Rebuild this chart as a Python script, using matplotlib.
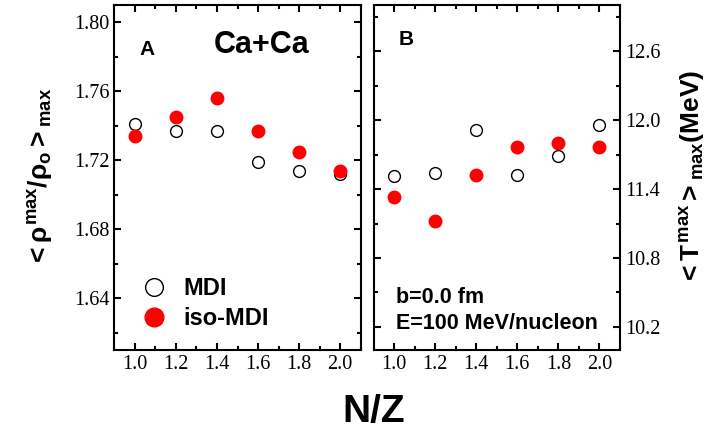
import matplotlib
matplotlib.use("Agg")
import matplotlib.pyplot as plt
from matplotlib.ticker import MultipleLocator

plt.rcParams['mathtext.fontset'] = 'custom'
plt.rcParams['mathtext.rm'] = 'Liberation Sans:bold'
plt.rcParams['mathtext.it'] = 'Liberation Sans:bold'
plt.rcParams['mathtext.bf'] = 'Liberation Sans:bold'

# Data
nz = [1.0, 1.2, 1.4, 1.6, 1.8, 2.0]
rho_mdi = [1.741, 1.737, 1.737, 1.719, 1.714, 1.712]
rho_iso = [1.734, 1.745, 1.756, 1.737, 1.725, 1.714]
temp_mdi = [11.51, 11.54, 11.91, 11.52, 11.69, 11.96]
temp_iso = [11.33, 11.12, 11.52, 11.77, 11.80, 11.77]
rho_ticks = [1.64, 1.68, 1.72, 1.76, 1.80]
temp_ticks = [10.2, 10.8, 11.4, 12.0, 12.6]

fig, (ax1, ax2) = plt.subplots(1, 2, figsize=(7.15, 4.32), dpi=100)
fig.subplots_adjust(left=0.16, right=0.867, top=0.988, bottom=0.19, wspace=0.053)

serif = 'Liberation Serif'
sans = 'Liberation Sans'

for ax in (ax1, ax2):
    ax.set_xlim(0.9, 2.1)
    ax.set_xticks(nz)
    ax.set_xticklabels([f"{v:.1f}" for v in nz], fontfamily=serif, fontsize=14.5)
    ax.xaxis.set_minor_locator(MultipleLocator(0.1))
    ax.tick_params(which='both', direction='in', top=True, bottom=True,
                   left=True, right=True, width=1.5)
    ax.tick_params(which='major', length=5)
    ax.tick_params(which='minor', length=3)
    for s in ax.spines.values():
        s.set_linewidth(1.5)

# Panel A
ax1.plot(nz, rho_mdi, 'o', mfc='white', mec='black', mew=1.0, ms=8.5, label='MDI')
ax1.plot(nz, rho_iso, 'o', mfc='red', mec='red', ms=9, label='iso-MDI')
ax1.set_ylim(1.61, 1.81)
ax1.set_yticks(rho_ticks)
ax1.set_yticklabels([f"{v:.2f}" for v in rho_ticks], fontfamily=serif, fontsize=14.5)
ax1.yaxis.set_minor_locator(MultipleLocator(0.02))
ax1.set_ylabel(r'$<\rho^{max}/\rho_o>_{max}$', fontsize=19, labelpad=14)
ax1.text(0.1, 0.855, 'A', transform=ax1.transAxes, fontfamily=sans,
         fontweight='bold', fontsize=15)
ax1.text(0.405, 0.86, 'Ca+Ca', transform=ax1.transAxes, fontfamily=sans,
         fontweight='bold', fontsize=22)
ax1.legend(loc='lower left', bbox_to_anchor=(-0.02, -0.005), frameon=False,
           markerscale=1.5, handletextpad=0.25, labelspacing=0.3,
           prop={'family': sans, 'weight': 'bold', 'size': 17})

# Panel B
ax2.plot(nz, temp_mdi, 'o', mfc='white', mec='black', mew=1.0, ms=8.5)
ax2.plot(nz, temp_iso, 'o', mfc='red', mec='red', ms=9)
ax2.set_ylim(10.0, 13.0)
ax2.set_yticks(temp_ticks)
ax2.set_yticklabels([f"{v:.1f}" for v in temp_ticks], fontfamily=serif, fontsize=14.5)
ax2.yaxis.set_minor_locator(MultipleLocator(0.3))
ax2.tick_params(which='both', left=True, right=True, labelleft=False, labelright=True)
ax2.yaxis.set_label_position('right')
ax2.set_ylabel(r'$<T^{max}>_{max}$(MeV)', fontsize=19, fontfamily=sans,
               fontweight='bold', labelpad=13, rotation=90)
ax2.text(0.1, 0.885, 'B', transform=ax2.transAxes, fontfamily=sans,
         fontweight='bold', fontsize=15)
ax2.text(0.09, 0.135, 'b=0.0 fm', transform=ax2.transAxes, fontfamily=sans,
         fontweight='bold', fontsize=15.5)
ax2.text(0.09, 0.06, 'E=100 MeV/nucleon', transform=ax2.transAxes, fontfamily=sans,
         fontweight='bold', fontsize=15.5)

fig.text(0.523, 0.005, 'N/Z', fontfamily=sans, fontweight='bold', fontsize=28,
         ha='center', va='bottom')

fig.savefig('out.png', dpi=100)
